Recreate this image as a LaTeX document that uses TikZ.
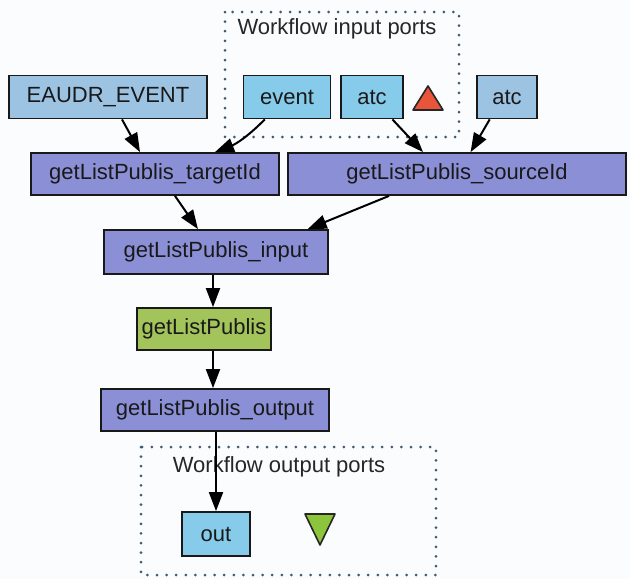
\documentclass[tikz,border=0pt]{standalone}
\usepackage{fontspec}
\setmainfont{Liberation Sans}
\usetikzlibrary{arrows.meta,calc}
\definecolor{ltsteel}{HTML}{9DC3E3}
\definecolor{skyport}{HTML}{86CBEA}
\definecolor{procpurple}{HTML}{8B8FD6}
\definecolor{procgreen}{HTML}{A3C35B}
\definecolor{dotcol}{HTML}{3F5A75}
\definecolor{redtri}{HTML}{E8553B}
\definecolor{greentri}{HTML}{8CC43C}
\definecolor{bg}{HTML}{FBFCFD}
\begin{document}
\begin{tikzpicture}[x=1pt,y=-1pt,
  box/.style={draw=black!90,line width=1.8pt,inner sep=0pt,font=\fontsize{22}{26}\selectfont,text=black!90},
  arr/.style={line width=2pt,draw=black,-{Triangle[length=19pt,width=14pt]}},
  portgroup/.style={draw=dotcol,line width=3pt,line cap=round,dash pattern=on 0pt off 9.6pt},
  grouplabel/.style={font=\fontsize{22}{26}\selectfont,text=black!85,inner sep=0pt}]
\fill[bg] (0,0) rectangle (630,579);
\useasboundingbox (0,0) rectangle (630,579);
% groups
\draw[portgroup] (225,12) rectangle (459,137);
\node[grouplabel] (inlabel) at (337,29) {Workflow input ports};
\draw[portgroup] (141,447) rectangle (436,575);
\node[grouplabel] (outlabel) at (279,467) {Workflow output ports};
% nodes
\node[box,fill=ltsteel,minimum width=198pt,minimum height=43pt] (eaudr) at (108,97) {EAUDR\_EVENT};
\node[box,fill=skyport,minimum width=87pt,minimum height=43pt] (event) at (287,97) {event};
\node[box,fill=skyport,minimum width=62pt,minimum height=43pt] (atcin) at (372,97) {atc};
\node[box,fill=ltsteel,minimum width=60pt,minimum height=43pt] (atcout) at (507,97) {atc};
\node[box,fill=procpurple,minimum width=248pt,minimum height=42pt] (tgt) at (155,174) {getListPublis\_targetId};
\node[box,fill=procpurple,minimum width=338pt,minimum height=42pt] (src) at (457,174) {getListPublis\_sourceId};
\node[box,fill=procpurple,minimum width=224pt,minimum height=44pt] (inp) at (216,252) {getListPublis\_input};
\node[box,fill=procgreen,minimum width=134pt,minimum height=42pt] (glp) at (204,329) {getListPublis};
\node[box,fill=procpurple,minimum width=228pt,minimum height=42pt] (outp) at (215,410) {getListPublis\_output};
\node[box,fill=skyport,minimum width=68pt,minimum height=44pt] (outport) at (216,534) {out};
% triangles
\filldraw[fill=redtri,draw=black!85,line width=1.6pt,line join=round] (428,86) -- (443,110) -- (413,110) -- cycle;
\filldraw[fill=greentri,draw=black!85,line width=1.6pt,line join=round] (305,514) -- (335,514) -- (320,545) -- cycle;
% connectors
\coordinate (xa) at (213,0);
\coordinate (xb) at (216,0);
\draw[arr] ($(eaudr.south west)!0.57!(eaudr.south east)$) -- ($(tgt.north west)!0.44!(tgt.north east)$);
\draw[arr] ($(event.south west)!0.25!(event.south east)$) to[bend left=12] ($(tgt.north west)!0.74!(tgt.north east)$);
\draw[arr] ($(atcin.south west)!0.82!(atcin.south east)$) -- ($(src.north west)!0.40!(src.north east)$);
\draw[arr] ($(atcout.south west)!0.22!(atcout.south east)$) -- ($(src.north west)!0.54!(src.north east)$);
\draw[arr] ($(tgt.south west)!0.58!(tgt.south east)$) -- ($(inp.north west)!0.42!(inp.north east)$);
\draw[arr] ($(src.south west)!0.30!(src.south east)$) -- ($(inp.north west)!0.906!(inp.north east)$);
\draw[arr] (inp.south -| xa) -- (glp.north -| xa);
\draw[arr] (glp.south -| xa) -- (outp.north -| xa);
\draw[arr] (outp.south -| xb) -- (outport.north -| xb);
\end{tikzpicture}
\end{document}
